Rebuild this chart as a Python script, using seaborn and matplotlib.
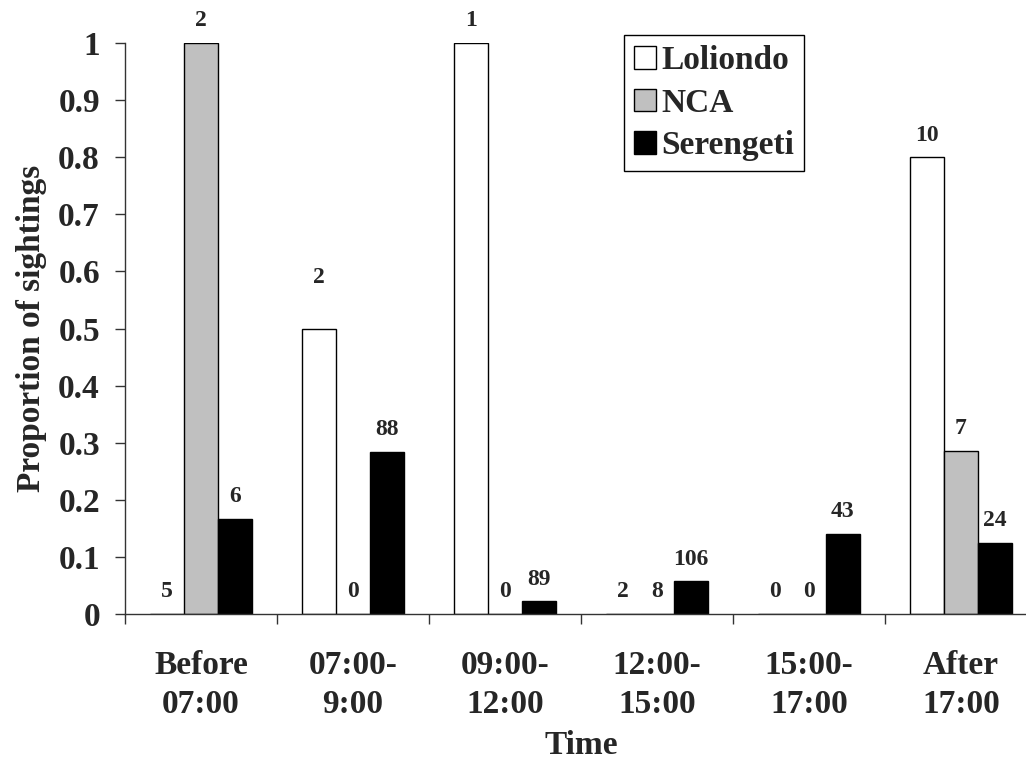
import matplotlib.pyplot as plt
import pandas as pd
import seaborn as sns

# Data: proportion of sightings per time period, per area
periods = ['Before\n07:00', '07:00-\n9:00', '09:00-\n12:00',
           '12:00-\n15:00', '15:00-\n17:00', 'After\n17:00']
areas = ['Loliondo', 'NCA', 'Serengeti']
loliondo = [0.0, 0.5, 1.0, 0.0, 0.0, 0.8]
nca = [1.0, 0.0, 0.0, 0.0, 0.0, 0.286]
serengeti = [0.167, 0.284, 0.022, 0.057, 0.140, 0.125]
# sample sizes printed above the bars
loliondo_n = [5, 2, 1, 2, 0, 10]
nca_n = [2, 0, 0, 8, 0, 7]
serengeti_n = [6, 88, 89, 106, 43, 24]

df = pd.DataFrame({
    'Time': periods * 3,
    'Area': [a for a in areas for _ in periods],
    'Proportion': loliondo + nca + serengeti,
})
counts = [loliondo_n, nca_n, serengeti_n]

sns.set_style('white')
plt.rcParams['font.family'] = ['Liberation Serif', 'DejaVu Serif']
plt.rcParams['font.weight'] = 'bold'

fig = plt.figure(figsize=(10.26, 7.62), dpi=100)
ax = fig.add_axes([0.1218, 0.1942, 0.8889, 0.7493])

sns.barplot(data=df, x='Time', y='Proportion', hue='Area', order=periods,
            hue_order=areas, width=0.67, ax=ax,
            palette={'Loliondo': 'white', 'NCA': '#c0c0c0', 'Serengeti': 'black'},
            edgecolor='black', linewidth=1, errorbar=None, saturation=1)

# count labels above each bar
for j, cont in enumerate(ax.containers):
    for i, bar in enumerate(cont):
        x = bar.get_x() + bar.get_width() / 2
        h = bar.get_height()
        dy = 16
        if j == 0 and i == 1:
            dy = 37  # this label sat higher in the original
        ax.annotate(str(counts[j][i]), (x, h), xytext=(0, dy),
                    textcoords='offset points', ha='center', va='center',
                    fontsize=17, fontweight='bold')

ax.set_xlim(-0.5, 5.5)
ax.set_ylim(0, 1)
ax.set_yticks([i / 10 for i in range(11)])
ax.set_yticklabels(['0'] + ['%.1f' % (i / 10) for i in range(1, 10)] + ['1'])
ax.set_xticks(range(len(periods)))
ax.set_xticklabels(periods, linespacing=1.32)
ax.set_xticks([i - 0.5 for i in range(len(periods) + 1)], minor=True)
ax.tick_params(axis='x', which='major', length=0, pad=26, labelsize=24)
ax.tick_params(axis='x', which='minor', length=7, width=1, direction='out',
               color='#333333', bottom=True)
ax.tick_params(axis='y', length=7, width=1, direction='out', color='#333333',
               left=True, pad=11, labelsize=24)

for side in ['top', 'right']:
    ax.spines[side].set_visible(False)
for side in ['left', 'bottom']:
    ax.spines[side].set_color('#333333')
    ax.spines[side].set_linewidth(1)

ax.set_xlabel('Time', fontsize=24, fontweight='bold', labelpad=7)
ax.set_ylabel('Proportion of sightings', fontsize=24, fontweight='bold', labelpad=8)

sns.move_legend(ax, 'upper left', bbox_to_anchor=(0.547, 1.014), title=None,
                frameon=True, fancybox=False, edgecolor='black', framealpha=1,
                fontsize=24, handlelength=0.67, handleheight=0.67,
                handletextpad=0.15, labelspacing=0.35, borderpad=0.3,
                borderaxespad=0)
ax.get_legend().get_frame().set_linewidth(1)

fig.savefig('out.png', dpi=100)
